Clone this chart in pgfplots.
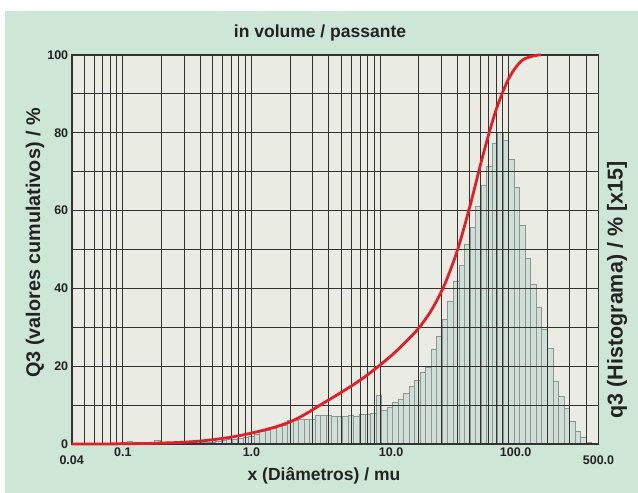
\documentclass[border=0pt]{standalone}
\usepackage{pgfplots}
\pgfplotsset{compat=1.18}
\usepackage{fontspec}
\setmainfont{Liberation Sans}
\definecolor{bgout}{RGB}{205,230,214}
\definecolor{bgin}{RGB}{234,235,226}
\definecolor{barfill}{RGB}{207,222,214}
\definecolor{baredge}{RGB}{140,150,146}
\definecolor{curvec}{RGB}{226,30,40}
\definecolor{gridc}{RGB}{50,50,50}
\definecolor{txt}{RGB}{35,35,35}
\pgfplotsset{
  layers/chartlayers/.define layer set={
    outerbg,bars,main,axis foreground
  }{},
}
\pgfplotstableread{
x h
0.10262 0.4
0.11330 0.7
0.12509 0.3
0.16836 0.3
0.18589 1.0
0.20523 0.3
0.27622 0.1
0.30498 0.1
0.33673 0.2
0.37178 0.2
0.41045 0.3
0.45318 0.4
0.50036 0.5
0.55245 0.7
0.60995 0.9
0.67345 1.1
0.74355 1.3
0.82091 1.5
0.90635 1.8
1.00072 2.0
1.10488 2.5
1.21989 3.2
1.34688 3.6
1.48708 4.0
1.64181 4.5
1.81270 4.8
2.00137 6.0
2.20969 6.2
2.43969 6.3
2.69365 6.3
2.97403 6.4
3.28362 7.3
3.62539 7.4
4.00277 7.3
4.41940 7.1
4.87940 7.0
5.38730 7.1
5.94807 7.4
6.56723 7.1
7.25079 7.5
8.00553 7.6
8.83881 8.0
9.75881 12.6
10.7745 8.7
11.8961 9.4
13.1345 10.6
14.5016 11.5
16.0111 13.0
17.6776 14.7
19.5176 16.3
21.5492 18.3
23.7922 19.6
26.2689 24.3
29.0031 27.8
32.0222 32.0
35.3552 36.6
39.0353 41.7
43.0982 46.0
47.5841 51.4
52.5379 55.6
58.0063 61.1
64.0443 66.5
70.7105 71.5
78.0706 77.4
86.1969 80.1
95.1692 78.1
105.0757 73.1
116.013 66.0
128.088 56.2
141.421 47.7
156.142 41.0
172.394 35.2
190.338 29.5
210.151 24.6
232.024 16.0
256.176 12.2
282.843 9.2
312.283 5.7
344.788 3.2
380.677 1.7
420.302 0.4
}\histdata
\pgfplotstableread{
x q
0.04 0
0.063 0.01
0.1 0.05
0.158 0.15
0.2 0.25
0.251 0.35
0.316 0.5
0.398 0.75
0.501 1.1
0.631 1.55
0.794 2.1
1.0 2.8
1.26 3.6
1.58 4.5
2.0 5.7
2.51 7.3
3.16 9.3
3.98 11.3
5.01 13.3
6.31 15.4
7.94 17.7
10 20.3
12.6 23.1
15.8 26.2
20 29.8
25.1 34.4
31.6 40.8
39.8 49.6
50.1 61.2
63.1 74.2
79.4 85.6
100 93.9
126 98.5
158 99.8
178 100
}\cumdata
\begin{document}
\begin{tikzpicture}
\begin{axis}[
  set layers=chartlayers,
  at={(71.7bp,49bp)}, anchor=south west,
  scale only axis, width=526.8bp, height=389bp,
  xmode=log, xmin=0.04, xmax=500, ymin=0, ymax=100,
  clip=false,
  xtick={0.1,1,10,100},
  xticklabels={0.1,1.0,{\hspace*{22bp}10.0},{\hspace*{14bp}100.0}},
  minor xtick={0.05,0.06,0.07,0.08,0.09,0.2,0.3,0.4,0.5,0.6,0.7,0.8,0.9,2,3,4,5,6,7,8,9,20,30,40,50,60,70,80,90,200,300,400},
  extra x ticks={0.04,500},
  extra x tick labels={0.04,500.0},
  extra x tick style={grid=none, xticklabel style={yshift=-8bp}},
  ytick={0,20,40,60,80,100},
  yticklabels={0,20,40,60,80,100},
  minor ytick={10,30,50,70,90},
  grid=both,
  major grid style={gridc, line width=1bp},
  minor grid style={gridc, line width=1bp},
  major tick length=0pt, minor tick length=0pt,
  axis line style={gridc, line width=1.6bp},
  tick label style={font=\bfseries\fontsize{12.5bp}{14bp}\selectfont, text=txt},
]
\begin{pgfonlayer}{outerbg}
\fill[white] (rel axis cs:0,0) ++(-71.7bp,-49bp) rectangle ++(638bp,493bp);
\fill[bgout] (rel axis cs:0,0) ++(-66.7bp,-49bp) rectangle ++(633bp,482bp);
\fill[bgin] (rel axis cs:0,0) rectangle (rel axis cs:1,1);
\end{pgfonlayer}
\addplot[ybar, bar width=5.53bp, on layer=bars, fill=barfill, draw=baredge, line width=0.7bp] table[x=x,y=h] {\histdata};
\addplot[curvec, line width=2.8bp, smooth, no marks] table[x=x,y=q] {\cumdata};
\end{axis}
\begin{scope}[every node/.style={font=\bfseries\fontsize{17.5bp}{20bp}\selectfont, text=txt}]
\node at (320bp,460bp) {in volume / passante};
\node at (324bp,17bp) {x (Diâmetros) / mu};
\node[rotate=90, font=\bfseries\fontsize{19.8bp}{22bp}\selectfont] at (35bp,250bp) {Q3 (valores cumulativos) / \%};
\node[rotate=90, font=\bfseries\fontsize{21.5bp}{24bp}\selectfont] at (617bp,203bp) {q3 (Histograma) / \% [x15]};
\end{scope}
\pgfresetboundingbox
\path (0,0) rectangle (638bp,493bp);
\end{tikzpicture}
\end{document}
